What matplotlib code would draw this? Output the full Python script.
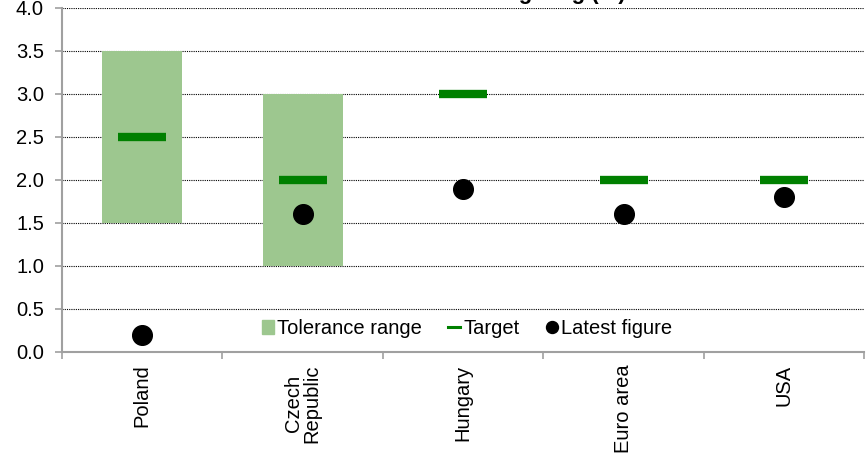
import numpy as np
import matplotlib
matplotlib.use('Agg')
import matplotlib.pyplot as plt
from matplotlib.lines import Line2D
from matplotlib.patches import Patch

plt.rcParams['font.family'] = ['Liberation Sans', 'DejaVu Sans']

countries = ['Poland', 'Czech\nRepublic', 'Hungary', 'Euro area', 'USA']
band_low = [1.5, 1.0, np.nan, np.nan, np.nan]
band_high = [3.5, 3.0, np.nan, np.nan, np.nan]
target = [2.5, 2.0, 3.0, 2.0, 2.0]
latest = [0.2, 1.6, 1.9, 1.6, 1.8]

band_color = '#9DC78F'
target_color = '#008000'
axis_gray = '#A0A0A0'
fs = 14.5

fig = plt.figure(figsize=(8.66, 4.62), dpi=100)
ax = fig.add_axes([0.0716, 0.2381, 0.9264, 0.7446])

x = np.arange(len(countries))
lo = np.array(band_low)
hi = np.array(band_high)

# tolerance bands
ax.bar(x, hi - lo, bottom=lo, width=0.5, color=band_color, zorder=2)
# target dashes
ax.hlines(target, x - 0.15, x + 0.15, color=target_color, lw=6, zorder=3)
# latest readings
ax.scatter(x, latest, s=200, color='black', zorder=4)

ax.set_xlim(-0.5, len(countries) - 0.5)
ax.set_ylim(0, 4)
ax.set_yticks(np.arange(0, 4.01, 0.5))
ax.set_yticklabels(['%.1f' % v for v in np.arange(0, 4.01, 0.5)])
ax.yaxis.grid(True, color='black', ls=(0, (1, 1)), lw=0.8, zorder=0)
ax.set_axisbelow(True)

ax.set_xticks(x)
ax.set_xticklabels(countries, rotation=90, va='top', ha='center',
                   fontsize=fs, linespacing=0.95)
ax.set_xticks(np.arange(-0.5, len(countries)), minor=True)
ax.tick_params(axis='x', which='major', length=0, pad=9)
ax.tick_params(axis='x', which='minor', length=5, color=axis_gray, width=1.2)
ax.tick_params(axis='y', length=5, color=axis_gray, width=1.2, labelsize=fs, pad=8)

for side in ['top', 'right']:
    ax.spines[side].set_visible(False)
for side in ['left', 'bottom']:
    ax.spines[side].set_color(axis_gray)
    ax.spines[side].set_linewidth(1.5)

handles = [
    Patch(color=band_color),
    Line2D([], [], color=target_color, lw=2.2),
    Line2D([], [], marker='o', color='black', ls='none', markersize=8.6),
]
ax.legend(handles, ['Tolerance range', 'Target', 'Latest figure'],
          loc='center', bbox_to_anchor=(0.505, 0.067), ncol=3, frameon=False,
          fontsize=fs, handlelength=0.6, handletextpad=0.15, columnspacing=1.3,
          borderpad=0)

# chart title sits mostly above the canvas edge
fig.text(0.722, 1.0 + 1.5 / 462, 'Inflation targeting (%)', ha='right',
         va='baseline', fontsize=16, fontweight='bold')

fig.savefig('out.png', dpi=100)
